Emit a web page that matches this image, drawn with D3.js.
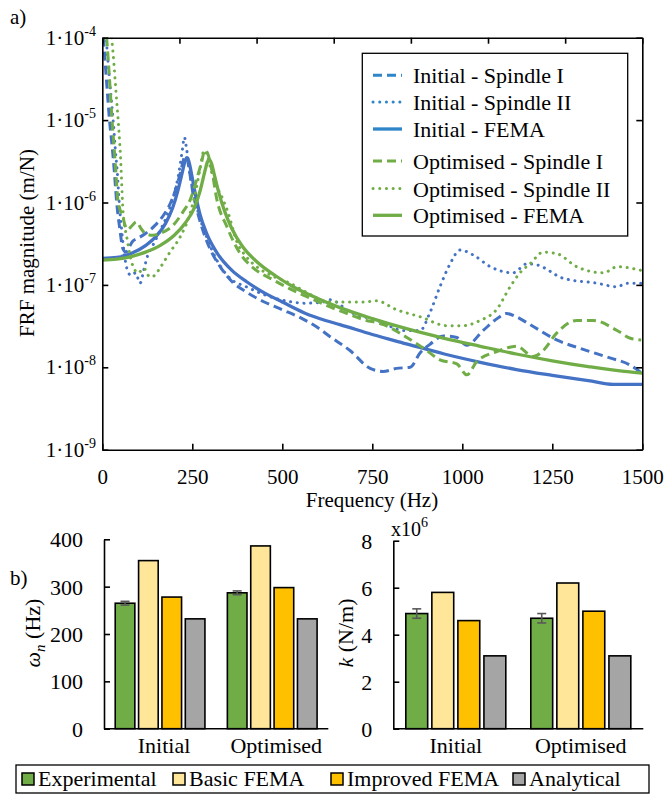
<!DOCTYPE html>
<html>
<head>
<meta charset="utf-8">
<script src="https://cdn.jsdelivr.net/npm/d3@7"></script>
<style>
body { margin: 0; background: #fff; font-family: "Liberation Serif", serif; }
</style>
</head>
<body>
<div id="chart"></div>
<script>
// FRF curves, [frequency (Hz), magnitude (m/N)]
var initialSpindle1 = [[3,1.0e-4],[8,5e-5],[14,2.2e-5],[20,1.0e-5],[28,4.5e-6],[34,2.2e-6],[40,1.0e-6],[48,5e-7],[58,2.7e-7],[66,2.5e-7],[75,2.9e-7],[85,3.4e-7],[100,3.7e-7],[120,4.2e-7],[145,5.2e-7],[170,7e-7],[190,1.0e-6],[205,1.5e-6],[218,2.4e-6],[228,3.5e-6],[234,3.6e-6],[242,2.4e-6],[252,1.3e-6],[265,7.5e-7],[280,4.5e-7],[300,2.7e-7],[330,1.6e-7],[360,1.1e-7],[400,8.2e-8],[450,6.2e-8],[500,5.0e-8],[550,4.0e-8],[600,3.0e-8],[633,2.35e-8],[688,1.6e-8],[744,9.7e-9],[780,8.9e-9],[817,9.7e-9],[855,1.0e-8],[883,1.5e-8],[910,1.9e-8],[947,2.4e-8],[985,2.3e-8],[1012,1.85e-8],[1058,2.8e-8],[1100,4.0e-8],[1123,4.5e-8],[1150,4.1e-8],[1188,3.3e-8],[1262,2.15e-8],[1336,1.65e-8],[1410,1.3e-8],[1465,1.07e-8],[1497,8.6e-9]];
var initialSpindle2 = [[10,1.1e-4],[16,5e-5],[23,2.2e-5],[30,1.0e-5],[36,4.5e-6],[42,2.2e-6],[47,1.0e-6],[53,5e-7],[60,2.6e-7],[68,1.6e-7],[80,1.3e-7],[92,1.4e-7],[105,1.05e-7],[115,1.5e-7],[125,2.2e-7],[140,3e-7],[160,4.5e-7],[180,7e-7],[200,1.3e-6],[212,2.2e-6],[222,4.2e-6],[228,6.2e-6],[234,4.5e-6],[245,2.0e-6],[262,9e-7],[290,3.8e-7],[318,2.0e-7],[355,1.2e-7],[400,9.5e-8],[484,6.8e-8],[568,6.0e-8],[614,6.2e-8],[633,6.6e-8],[688,4.7e-8],[772,3.6e-8],[835,2.8e-8],[883,2.8e-8],[910,4.6e-8],[938,9.5e-8],[966,1.8e-7],[994,2.65e-7],[1031,2.3e-7],[1077,1.67e-7],[1141,1.4e-7],[1179,1.8e-7],[1207,1.75e-7],[1281,1.2e-7],[1373,1.05e-7],[1430,9.5e-8],[1457,1.05e-7],[1497,1.05e-7]];
var initialFema = [[0,2.1e-7],[40,2.15e-7],[80,2.4e-7],[120,3.0e-7],[150,3.9e-7],[175,5.5e-7],[195,8.5e-7],[210,1.4e-6],[222,2.3e-6],[230,3.2e-6],[235,3.5e-6],[240,3.2e-6],[248,2.2e-6],[258,1.3e-6],[272,7.0e-7],[290,4.2e-7],[320,2.4e-7],[360,1.5e-7],[400,1.1e-7],[450,8.0e-8],[500,6.2e-8],[560,4.6e-8],[620,3.7e-8],[660,3.3e-8],[750,2.5e-8],[850,1.9e-8],[950,1.45e-8],[1050,1.15e-8],[1150,9.4e-9],[1250,8.0e-9],[1350,6.9e-9],[1420,6.2e-9],[1500,6.2e-9]];
var optimisedSpindle1 = [[12,1.0e-4],[17,5e-5],[22,2.3e-5],[27,1.0e-5],[33,4.5e-6],[38,2.2e-6],[43,1.1e-6],[50,8e-7],[56,7e-7],[62,5.5e-7],[70,4.7e-7],[82,5.2e-7],[95,5.8e-7],[108,4.8e-7],[120,4.2e-7],[140,4.0e-7],[165,4.3e-7],[195,5.2e-7],[225,7.8e-7],[245,1.1e-6],[262,1.9e-6],[275,3.0e-6],[285,4.3e-6],[292,4.0e-6],[304,2.5e-6],[318,1.1e-6],[346,5.1e-7],[383,2.4e-7],[420,1.6e-7],[475,1.15e-7],[520,9e-8],[568,7.2e-8],[633,5.4e-8],[680,4.5e-8],[725,3.8e-8],[781,3.3e-8],[846,2.3e-8],[901,1.6e-8],[938,1.23e-8],[985,1.1e-8],[1013,8.1e-9],[1040,1.17e-8],[1096,1.55e-8],[1151,1.8e-8],[1197,1.35e-8],[1225,1.6e-8],[1262,2.6e-8],[1318,3.7e-8],[1364,3.7e-8],[1430,2.8e-8],[1467,2.25e-8],[1497,2.15e-8]];
var optimisedSpindle2 = [[26,1.0e-4],[32,5e-5],[38,2.2e-5],[44,1.0e-5],[50,4e-6],[58,7.4e-7],[68,3.8e-7],[78,2.2e-7],[86,1.65e-7],[100,1.4e-7],[115,1.6e-7],[132,1.25e-7],[145,1.3e-7],[160,1.6e-7],[188,2.5e-7],[216,3.8e-7],[244,7.4e-7],[260,1.4e-6],[271,2.5e-6],[283,4.3e-6],[292,3.6e-6],[308,2.0e-6],[336,1.07e-6],[350,7.4e-7],[373,3.4e-7],[400,2.2e-7],[429,1.66e-7],[470,1.3e-7],[521,1.05e-7],[570,8e-8],[614,6.4e-8],[650,6.2e-8],[725,6.2e-8],[762,6.4e-8],[817,5.0e-8],[883,4.1e-8],[957,3.2e-8],[1003,3.2e-8],[1049,3.7e-8],[1095,5.0e-8],[1133,9.5e-8],[1160,1.4e-7],[1188,1.8e-7],[1225,2.5e-7],[1262,2.4e-7],[1318,1.66e-7],[1392,1.4e-7],[1430,1.66e-7],[1497,1.5e-7]];
var optimisedFema = [[0,2.0e-7],[40,2.05e-7],[80,2.2e-7],[120,2.5e-7],[160,3.0e-7],[200,4.0e-7],[230,5.6e-7],[255,8.5e-7],[272,1.4e-6],[284,2.3e-6],[292,3.1e-6],[297,3.3e-6],[303,3.0e-6],[312,2.1e-6],[324,1.3e-6],[340,7.8e-7],[360,4.8e-7],[390,2.9e-7],[430,1.9e-7],[480,1.3e-7],[530,9.5e-8],[600,6.8e-8],[660,5.3e-8],[750,3.9e-8],[850,2.9e-8],[950,2.25e-8],[1050,1.8e-8],[1150,1.45e-8],[1250,1.2e-8],[1350,1.02e-8],[1450,8.9e-9],[1500,8.5e-9]];

var frfTicks = [1e-9, 1e-8, 1e-7, 1e-6, 1e-5, 1e-4];
var frfExponents = ["-9", "-8", "-7", "-6", "-5", "-4"];
var freqTicks = [0, 250, 500, 750, 1000, 1250, 1500];

// bar chart data
var groups = ["Initial", "Optimised"];
var methods = ["Experimental", "Basic FEMA", "Improved FEMA", "Analytical"];
var naturalFreq = [[265, 355, 278, 232], [287, 386, 298, 232]];
var naturalFreqErr = [4, 4];
var stiffness = [[4.9, 5.8, 4.6, 3.1], [4.7, 6.2, 5.0, 3.1]];
var stiffnessErr = [0.2, 0.2];
var freqAxisTicks = [0, 100, 200, 300, 400];
var stiffAxisTicks = [0, 2, 4, 6, 8];

var blue = "#4472C4";
var green = "#70AD47";
var methodColors = ["#70AD47", "#FFE699", "#FFC000", "#A5A5A5"];
var serif = "'Liberation Serif', 'Times New Roman', Times, serif";

var svg = d3.select("#chart")
    .append("svg")
    .attr("width", 666)
    .attr("height", 796)
    .attr("font-family", serif);

// ---------- a) FRF plot ----------
var frf = {left: 102.3, right: 642.3, top: 37.7, bottom: 449.7};

var x = d3.scaleLinear().domain([0, 1500]).range([frf.left, frf.right]);
var y = d3.scaleLog().domain([1e-9, 1e-4]).range([frf.bottom, frf.top]);
// secondary top axis in the original has 7 equal divisions
var xTop = d3.scaleLinear().domain([0, 7]).range([frf.left, frf.right]);

svg.append("text").attr("x", 10).attr("y", 24).style("font-size", "21px").text("a)");

svg.append("defs").append("clipPath").attr("id", "frfClip")
    .append("rect")
    .attr("x", frf.left).attr("y", frf.top)
    .attr("width", frf.right - frf.left).attr("height", frf.bottom - frf.top);

var frfSeries = [
    {name: "Initial - Spindle I", data: initialSpindle1, color: blue, style: "dash"},
    {name: "Initial - Spindle II", data: initialSpindle2, color: blue, style: "dot"},
    {name: "Initial - FEMA", data: initialFema, color: blue, style: "solid"},
    {name: "Optimised - Spindle I", data: optimisedSpindle1, color: green, style: "dash"},
    {name: "Optimised - Spindle II", data: optimisedSpindle2, color: green, style: "dot"},
    {name: "Optimised - FEMA", data: optimisedFema, color: green, style: "solid"}
];

function styleLine(sel, s) {
    sel.attr("fill", "none")
        .attr("stroke", s.color)
        .attr("stroke-width", s.style == "solid" ? 3.3 : 3)
        .attr("stroke-linecap", s.style == "dot" ? "round" : "butt")
        .attr("stroke-dasharray", s.style == "dash" ? "9,5" : (s.style == "dot" ? "0.1,6.6" : null));
}

var line = d3.line()
    .x(d => x(d[0]))
    .y(d => y(d[1]))
    .curve(d3.curveMonotoneX);

var lineGroup = svg.append("g").attr("clip-path", "url(#frfClip)");
frfSeries.forEach(function(s) {
    lineGroup.append("path").attr("d", line(s.data)).call(styleLine, s);
});

// axes, ticks pointing inwards
var bottomAxis = svg.append("g")
    .attr("transform", `translate(0, ${frf.bottom})`)
    .call(d3.axisBottom(x).tickValues(freqTicks).tickFormat(d3.format("d"))
        .tickSizeInner(-6).tickSizeOuter(0).tickPadding(19));
svg.append("g")
    .attr("transform", `translate(${frf.left}, 0)`)
    .call(d3.axisLeft(y).tickValues(frfTicks).tickFormat("").tickSizeInner(-6).tickSizeOuter(0));
svg.append("g")
    .attr("transform", `translate(${frf.right}, 0)`)
    .call(d3.axisRight(y).tickValues(frfTicks).tickFormat("").tickSizeInner(-6).tickSizeOuter(0));
svg.append("g")
    .attr("transform", `translate(0, ${frf.top})`)
    .call(d3.axisTop(xTop).ticks(7).tickFormat("").tickSizeInner(-6).tickSizeOuter(0));

bottomAxis.selectAll("text").style("font-size", "21px");

// y tick labels 1·10^n
var yLabels = svg.append("g").selectAll("text")
    .data(frfTicks)
    .enter().append("text")
    .attr("x", 96)
    .attr("y", d => y(d) + 7)
    .attr("text-anchor", "end")
    .style("font-size", "21px");
yLabels.append("tspan").text("1\u00B710");
yLabels.append("tspan")
    .attr("dy", -9)
    .style("font-size", "14px")
    .text((d, i) => frfExponents[i]);

svg.selectAll(".domain, .tick line")
    .attr("stroke", "#000")
    .attr("stroke-width", 1.6);

svg.append("text")
    .attr("x", 372).attr("y", 507)
    .attr("text-anchor", "middle")
    .style("font-size", "21px")
    .text("Frequency (Hz)");

svg.append("text")
    .attr("transform", `translate(34, 243) rotate(-90)`)
    .attr("text-anchor", "middle")
    .style("font-size", "21px")
    .text("FRF magnitude (m/N)");

// legend
var legend = svg.append("g");
legend.append("rect")
    .attr("x", 362.3).attr("y", 53.3)
    .attr("width", 265.4).attr("height", 182.7)
    .attr("fill", "#fff").attr("stroke", "#000").attr("stroke-width", 1.3);
var legendRows = [83.3, 110, 137, 169, 196.5, 223.3];
var legendBlue = "#2E86C8";
frfSeries.forEach(function(s, i) {
    var ls = Object.assign({}, s, {color: s.color == blue ? legendBlue : s.color});
    legend.append("line")
        .attr("x1", 373).attr("x2", 402)
        .attr("y1", legendRows[i] - 8).attr("y2", legendRows[i] - 8)
        .call(styleLine, ls);
    legend.append("text")
        .attr("x", 413).attr("y", legendRows[i])
        .style("font-size", "22px")
        .text(s.name);
});

// ---------- b) bar charts ----------
svg.append("text").attr("x", 10).attr("y", 585).style("font-size", "21px").text("b)");

function drawBars(opt) {
    var g = svg.append("g");
    var yScale = d3.scaleLinear().domain(opt.domain).range([728.7, opt.top]);
    var outer = d3.scaleBand().domain(groups).range([opt.left, opt.right])
        .paddingInner(0.2).paddingOuter(0.1);
    var inner = d3.scaleBand().domain(methods).range([0, outer.bandwidth()])
        .paddingInner(0.16).paddingOuter(0);

    groups.forEach(function(grp, gi) {
        var bg = g.append("g").attr("transform", `translate(${outer(grp)}, 0)`);
        bg.selectAll("rect")
            .data(opt.values[gi])
            .enter().append("rect")
            .attr("x", (d, i) => inner(methods[i]))
            .attr("y", d => yScale(d))
            .attr("width", inner.bandwidth())
            .attr("height", d => yScale(0) - yScale(d))
            .attr("fill", (d, i) => methodColors[i])
            .attr("stroke", "#000")
            .attr("stroke-width", 1.6);

        // error bar on the experimental value
        var ex = inner(methods[0]) + inner.bandwidth() / 2;
        var v = opt.values[gi][0], e = opt.errors[gi];
        var eb = bg.append("g").attr("stroke", "#595959").attr("stroke-width", 1.6);
        eb.append("line").attr("x1", ex).attr("x2", ex).attr("y1", yScale(v - e)).attr("y2", yScale(v + e));
        eb.append("line").attr("x1", ex - 4.5).attr("x2", ex + 4.5).attr("y1", yScale(v - e)).attr("y2", yScale(v - e));
        eb.append("line").attr("x1", ex - 4.5).attr("x2", ex + 4.5).attr("y1", yScale(v + e)).attr("y2", yScale(v + e));

        g.append("text")
            .attr("x", outer(grp) + outer.bandwidth() / 2 + opt.labelShift)
            .attr("y", 753)
            .attr("text-anchor", "middle")
            .style("font-size", "22px")
            .text(grp);
    });

    // axes
    g.append("g")
        .attr("transform", `translate(${opt.left}, 0)`)
        .call(d3.axisLeft(yScale).tickValues(opt.ticks).tickFormat("").tickSizeInner(-6).tickSizeOuter(0))
        .selectAll(".domain, .tick line")
        .attr("stroke", "#000").attr("stroke-width", 1.6);
    g.append("line")
        .attr("x1", opt.left).attr("x2", opt.right)
        .attr("y1", yScale(0)).attr("y2", yScale(0))
        .attr("stroke", "#000").attr("stroke-width", 1.6);

    g.append("g").selectAll("text")
        .data(opt.ticks)
        .enter().append("text")
        .attr("x", opt.left - 21)
        .attr("y", d => yScale(d) + 8)
        .attr("text-anchor", "end")
        .style("font-size", "22px")
        .text(d => d);
    return g;
}

drawBars({left: 104, right: 328.3, top: 539.3, domain: [0, 400], ticks: freqAxisTicks,
    values: naturalFreq, errors: naturalFreqErr, labelShift: 4});
drawBars({left: 393.3, right: 643.3, top: 540.7, domain: [0, 8], ticks: stiffAxisTicks,
    values: stiffness, errors: stiffnessErr, labelShift: 0});

// axis titles
var wLabel = svg.append("text")
    .attr("transform", `translate(40, 633) rotate(-90)`)
    .attr("text-anchor", "middle")
    .style("font-size", "22px");
wLabel.append("tspan").style("font-style", "italic").text("\u03C9");
wLabel.append("tspan").style("font-style", "italic").style("font-size", "15px").attr("dy", 5).text("n");
wLabel.append("tspan").attr("dy", -5).text(" (Hz)");

var kLabel = svg.append("text")
    .attr("transform", `translate(353, 633) rotate(-90)`)
    .attr("text-anchor", "middle")
    .style("font-size", "22px");
kLabel.append("tspan").style("font-style", "italic").text("k");
kLabel.append("tspan").text(" (N/m)");

var mult = svg.append("text").attr("x", 391).attr("y", 536).style("font-size", "20px");
mult.append("tspan").text("x10");
mult.append("tspan").attr("dy", -9).style("font-size", "14px").text("6");

// bottom legend
var bl = svg.append("g");
bl.append("rect")
    .attr("x", 16).attr("y", 765).attr("width", 633).attr("height", 28)
    .attr("fill", "#fff").attr("stroke", "#000").attr("stroke-width", 1.3);
var legendX = [22, 173, 331, 513];
methods.forEach(function(m, i) {
    bl.append("rect")
        .attr("x", legendX[i]).attr("y", 773)
        .attr("width", 12).attr("height", 12)
        .attr("fill", methodColors[i]).attr("stroke", "#000").attr("stroke-width", 1.5);
    bl.append("text")
        .attr("x", legendX[i] + 16).attr("y", 786)
        .style("font-size", "22px")
        .text(m);
});

// every label in the serif face, overriding the axis defaults
svg.selectAll("text").style("font-family", serif).attr("fill", "#000");
</script>
</body>
</html>
